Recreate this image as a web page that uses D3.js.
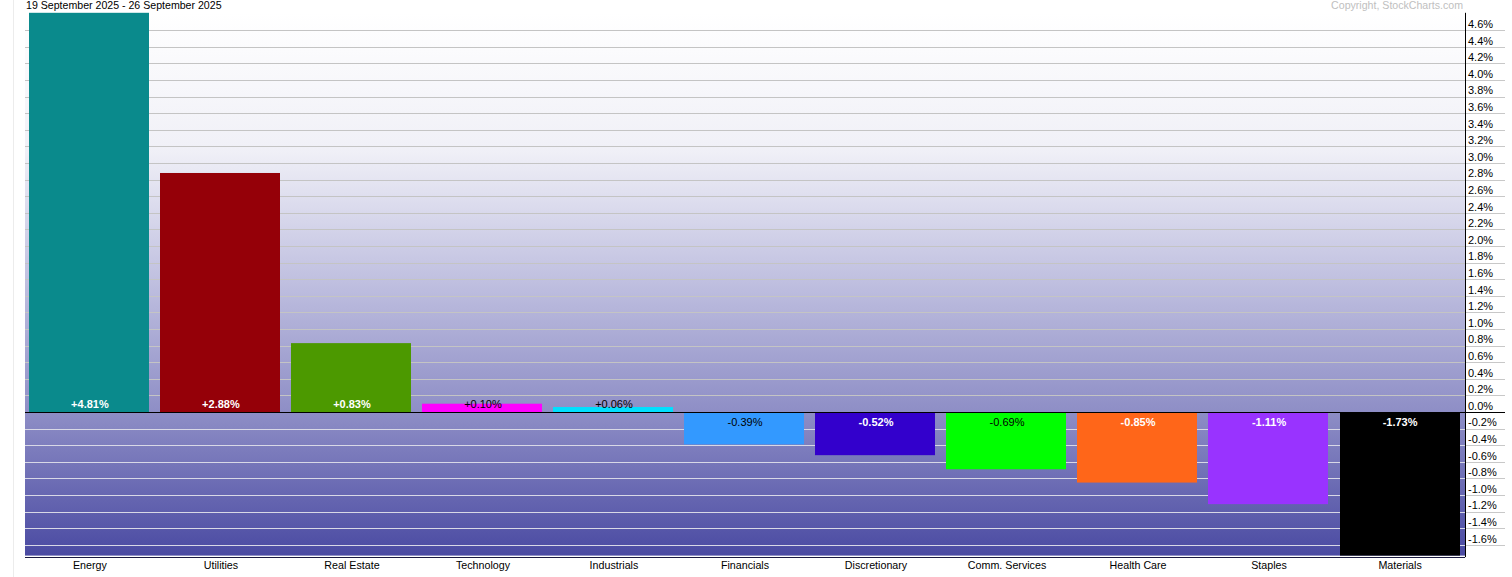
<!DOCTYPE html>
<html>
<head>
<meta charset="utf-8">
<script src="https://cdn.jsdelivr.net/npm/d3@7"></script>
<style>
html,body{margin:0;padding:0;background:#fff;}
svg{display:block;}
text{font-family:Arial,"Liberation Sans",sans-serif;}
</style>
</head>
<body>
<svg id="chart" width="1512" height="577"></svg>
<script>
const categories = ["Energy","Utilities","Real Estate","Technology","Industrials","Financials","Discretionary","Comm. Services","Health Care","Staples","Materials"];
const values = [4.81, 2.88, 0.83, 0.10, 0.06, -0.39, -0.52, -0.69, -0.85, -1.11, -1.73];
const barColors = ["#0a8a8c","#950008","#4c9900","#ff00ff","#00e0ff","#3399ff","#3300cc","#00ff00","#ff6619","#9933ff","#000000"];
const darkLabel = [false,false,false,true,true,true,false,true,false,false,false];
const tickValues = [-1.6,-1.4,-1.2,-1.0,-0.8,-0.6,-0.4,-0.2,0.0,0.2,0.4,0.6,0.8,1.0,1.2,1.4,1.6,1.8,2.0,2.2,2.4,2.6,2.8,3.0,3.2,3.4,3.6,3.8,4.0,4.2,4.4,4.6];
const title = "19 September 2025 - 26 September 2025";
const copyright = "Copyright, StockCharts.com";

(function(){
const svg = d3.select("#chart");
const pLeft = 25, pRight = 1465, pTop = 12.8, pBottom = 555.6, gridRight = 1505;
const loc = d3.formatLocale({decimal: ".", thousands: ",", grouping: [3], currency: ["", ""], minus: "-"});
const f1 = loc.format(".1f"), f2 = loc.format(".2f");

const x = d3.scaleBand().domain(categories).range([pLeft, pRight]).paddingInner(0.083).paddingOuter(0.037);
const y = d3.scaleLinear().domain(d3.extent(values)).range([pBottom, pTop]);

// gradient background
const defs = svg.append("defs");
const grad = defs.append("linearGradient").attr("id","bg").attr("x1",0).attr("x2",0).attr("y1",0).attr("y2",1);
const span = pBottom - pTop;
const stops = [[pTop,"#ffffff"],[150,"#f0f0f7"],[280,"#c0c0e0"],[y(0),"#8e8ec6"],[pBottom,"#4a4aa2"]];
stops.forEach(s => grad.append("stop").attr("offset", ((s[0]-pTop)/span)).attr("stop-color", s[1]));

// frame line at left
svg.append("line").attr("x1",13.5).attr("x2",13.5).attr("y1",0).attr("y2",577).attr("stroke","#ececec");

svg.append("rect").attr("x",pLeft).attr("y",pTop).attr("width",pRight-pLeft).attr("height",pBottom-pTop).attr("fill","url(#bg)");

// gridlines
const grid = svg.append("g");
tickValues.filter(t => Math.abs(t) > 1e-9).forEach(t => {
  const yy = Math.round(y(t)) + 0.5;
  grid.append("line").attr("x1",pLeft).attr("x2",pRight).attr("y1",yy).attr("y2",yy)
    .attr("stroke", t > 0 ? "#c4c4c4" : "#d8d8e6");
  grid.append("line").attr("x1",pRight).attr("x2",gridRight).attr("y1",yy).attr("y2",yy)
    .attr("stroke","#c8c8c8");
});

// bars
const bars = svg.append("g");
categories.forEach((c,i) => {
  const v = values[i];
  bars.append("rect")
    .attr("x", Math.floor(x(c))).attr("width", Math.round(x.bandwidth()))
    .attr("y", y(Math.max(0,v))).attr("height", Math.abs(y(v)-y(0)))
    .attr("fill", barColors[i]);
});

// axis (right)
const axis = d3.axisRight(y).tickValues(tickValues).tickSize(0).tickPadding(3)
  .tickFormat(d => f1(d) + "%");
const ag = svg.append("g").attr("transform", `translate(${pRight},0)`).call(axis);
ag.select(".domain").remove();
ag.selectAll("text").attr("font-size","11px").attr("fill","#000").attr("dy","-0.25em")
  .attr("font-family","Arial, 'Liberation Sans', sans-serif");
svg.append("line").attr("x1",pRight+0.5).attr("x2",pRight+0.5).attr("y1",pTop).attr("y2",pBottom+1.5).attr("stroke","#000");

// zero line & bottom border
const y0 = Math.round(y(0)) + 0.5;
svg.append("line").attr("x1",pLeft).attr("x2",gridRight).attr("y1",y0).attr("y2",y0).attr("stroke","#000");
svg.append("line").attr("x1",pLeft).attr("x2",pRight).attr("y1",Math.round(pBottom)+1.5).attr("y2",Math.round(pBottom)+1.5).attr("stroke","#1a1a40");

// value labels
categories.forEach((c,i) => {
  const v = values[i];
  svg.append("text")
    .attr("x", x(c) + x.bandwidth()/2)
    .attr("y", v >= 0 ? y(0) - 4 : y(0) + 14)
    .attr("text-anchor","middle").attr("font-size","11px")
    .attr("font-weight", darkLabel[i] ? "normal" : "bold")
    .attr("fill", darkLabel[i] ? "#000" : "#fff")
    .text((v >= 0 ? "+" : "") + f2(v) + "%");
});

// category labels
const xa = d3.axisBottom(x).tickSize(0).tickPadding(0);
const xg = svg.append("g").attr("transform", `translate(0,${pBottom})`).call(xa);
xg.select(".domain").remove();
xg.selectAll("text").attr("font-size","10.7px").attr("fill","#000").attr("dy","0").attr("y",13.5)
  .attr("font-family","Arial, 'Liberation Sans', sans-serif");

// title & copyright
svg.append("text").attr("x",26).attr("y",9).attr("font-size","10.6px").attr("fill","#000").text(title);
svg.append("text").attr("x",1463).attr("y",9).attr("text-anchor","end").attr("font-size","10.6px").attr("fill","#c0c0c0").text(copyright);
})();
</script>
</body>
</html>
